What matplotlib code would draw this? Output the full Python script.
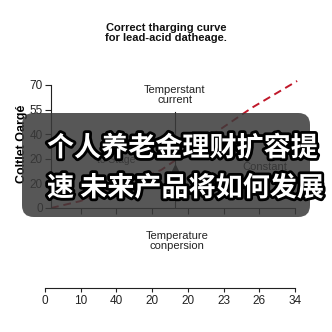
import matplotlib.pyplot as plt
from matplotlib.patches import FancyBboxPatch
import matplotlib.patheffects as pe

# Datos
titulo = 'Correct tharging curve\nfor lead-acid datheage.'
y_etiquetas = ['0', '20', '20', '40', '55', '70']
x_etiquetas = ['0', '10', '40', '20', '20', '23', '26', '34']
curva_x = [0.17, 0.99, 1.55, 3.25, 4.80, 5.79, 7.06]
curva_y = [0.0, 0.28, 0.61, 1.54, 3.09, 4.07, 5.16]
marca_x = 3.64
marca_top = 3.9
marca_tri = 1.63
titular = ['个人养老金理财扩容提', '速 未来产品将如何发展']

W = 332.0
def fx(px):
    return px / W
def fy(py):
    return 1 - py / W

plt.rcParams['font.family'] = ['Liberation Sans', 'DejaVu Sans']
fig = plt.figure(figsize=(3.32, 3.32), dpi=100)
fig.patch.set_facecolor('white')

# Eje principal
unit = (295 - 45) / 7.0
ax = fig.add_axes([fx(51), fy(208), (295 - 51) / W, (208 - 80) / W])
ax.set_xlim((51 - 45) / unit, 7)
ax.set_ylim(0, 5.2)
for s in ['top', 'right']:
    ax.spines[s].set_visible(False)
for s in ['left', 'bottom']:
    ax.spines[s].set_color('#222222')
    ax.spines[s].set_linewidth(0.8)
ax.spines['left'].set_bounds(0, 5)
ax.set_yticks(range(len(y_etiquetas)))
ax.set_yticklabels(y_etiquetas)
ax.set_xticks(range(1, 8))
ax.set_xticklabels([])
ax.tick_params(axis='y', length=4, width=0.8, colors='#222222', labelsize=8.5, pad=2)
ax.tick_params(axis='x', length=4, width=0.8, colors='#222222')
ax.set_ylabel('Coltlet Oargé', fontsize=9, fontweight='bold', labelpad=1)

ax.plot(curva_x, curva_y, color='#c0182a', lw=1.4, ls=(0, (4, 2.5)), clip_on=False)
ax.plot([marca_x, marca_x], [0, marca_top], color='#222222', lw=0.8)
ax.plot([marca_x], [marca_tri], marker='^', color='#111111', ms=5)
ax.text(marca_x, 4.6, 'Temperstant\ncurrent', ha='center', va='center', fontsize=8,
        color='#222222', linespacing=1.0)
ax.text(2.0, 2.15, 'Instant\nto Stage', ha='center', va='center', fontsize=7.5,
        color='#333333', linespacing=1.0)
ax.text(6.15, 1.65, 'Constant', ha='center', va='center', fontsize=8, color='#222222')

# Eje inferior
ax2 = fig.add_axes([fx(45), fy(288), 250 / W, 0.001])
ax2.set_xlim(0, 7)
ax2.set_ylim(0, 1)
for s in ['top', 'right', 'left']:
    ax2.spines[s].set_visible(False)
ax2.spines['bottom'].set_linewidth(0.8)
ax2.spines['bottom'].set_color('#222222')
ax2.set_yticks([])
ax2.set_xticks(range(len(x_etiquetas)))
ax2.set_xticklabels(x_etiquetas)
ax2.tick_params(axis='x', length=3, width=0.8, colors='#222222', labelsize=8.5, pad=2)

# Textos
fig.text(fx(166), fy(33), titulo, ha='center', va='center', fontsize=8,
         fontweight='bold', color='#111111', linespacing=1.1)
fig.text(fx(177), fy(241), 'Temperature\nconpersion', ha='center', va='center',
         fontsize=8, color='#222222', linespacing=1.0)

# Caja oscura con titular
caja = FancyBboxPatch((fx(22), fy(217)), (310 - 22) / W, (217 - 113) / W,
                      boxstyle='round,pad=0,rounding_size=0.035',
                      transform=fig.transFigure, facecolor='#3a3a3a', alpha=0.85,
                      edgecolor='none', zorder=5)
fig.patches.append(caja)
efecto = [pe.withStroke(linewidth=4, foreground='black')]
for i, linea in enumerate(titular):
    fig.text(fx(47), fy(148 + 40 * i), linea, ha='left', va='center', fontsize=19.5,
             fontweight='black', color='white', family=['Noto Sans CJK SC', 'DejaVu Sans'],
             path_effects=efecto, zorder=6)

plt.savefig('out.png', dpi=100)
plt.close()
